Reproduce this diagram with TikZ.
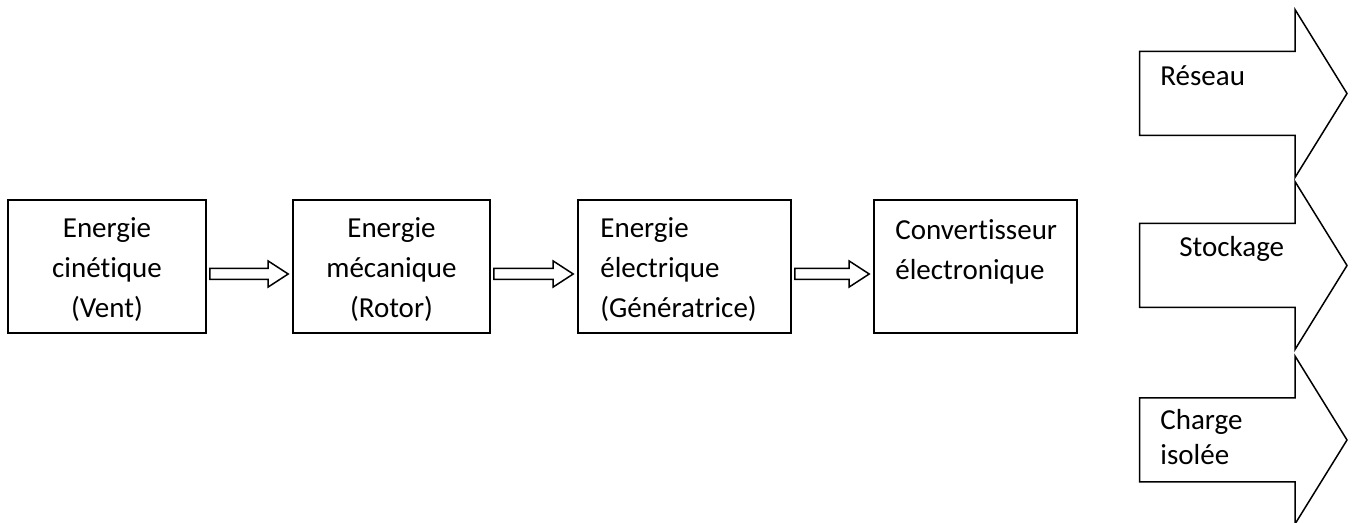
\documentclass[tikz,border=0pt]{standalone}
\usepackage{fontspec}
\setmainfont{Carlito}[Ligatures=NoCommon]
\usetikzlibrary{calc,positioning}

\begin{document}
\begin{tikzpicture}[
  x=0.5pt,y=-0.5pt,
  font=\fontsize{14.5pt}{20pt}\selectfont,
  stagebox/.style={draw=black,line width=0.8pt,fill=white,minimum height=66.5pt,inner sep=0pt},
  stagetext/.style={inner sep=0pt,anchor=base,align=center},
  lefttext/.style={inner sep=0pt,anchor=base west,align=left},
  flowarrow/.style={draw=black,line width=0.75pt,line join=miter},
  outarrow/.style={draw=black,line width=0.75pt,line join=miter},
  outtext/.style={inner sep=0pt,anchor=base west,align=left,
    font=\fontsize{14.5pt}{17.5pt}\selectfont}
]
\useasboundingbox (0,0) rectangle (1355,523);

% -------------------------------------------------------------------------
% conversion chain
% -------------------------------------------------------------------------
\node[stagebox,minimum width=99pt] (wind) at (107,266.5) {};
\node[stagebox,minimum width=98.5pt] (rotor) at (391.5,266.5) {};
\node[stagebox,minimum width=106.5pt] (gen) at (684.5,266.5) {};
\node[stagebox,minimum width=101.5pt] (conv) at (975.5,266.5) {};

% base anchor sits on the last line
\node[stagetext] (windtxt) at (107,318) {Energie\\cinétique\\(Vent)};
\node[stagetext] (rotortxt) at (391.5,318) {Energie\\mécanique\\(Rotor)};
\node[lefttext] (gentxt) at (600,318) {Energie\\électrique\\(Génératrice)};
\node[lefttext] (convtxt) at (895,280) {Convertisseur\\électronique};

\foreach \a/\b in {wind/rotor,rotor/gen,gen/conv}
  {\coordinate (s) at ($(\a.east)+(3,7.5)$);
   \coordinate (t) at ($(\b.west)+(-4,7.5)$);
   \draw[flowarrow] ($(s)+(0,-5.5)$) -- ($(t)+(-20,-5.5)$) -- ($(t)+(-20,-13)$)
     -- (t) -- ($(t)+(-20,13)$) -- ($(t)+(-20,5.5)$) -- ($(s)+(0,5.5)$) -- cycle;}

% -------------------------------------------------------------------------
% outputs
% -------------------------------------------------------------------------
\foreach \cy in {93.5,265.5,440}
  {\draw[outarrow] (1139.5,\cy-42) -- (1295,\cy-42) -- (1295,\cy-84) -- (1347,\cy)
     -- (1295,\cy+84) -- (1295,\cy+42) -- (1139.5,\cy+42) -- cycle;}

\node[outtext] (grid) at (1160,86) {Réseau};
\node[outtext] (storage) at (1179,257) {Stockage};
\node[outtext] (load) at (1160,465) {Charge\\isolée};
\end{tikzpicture}
\end{document}
